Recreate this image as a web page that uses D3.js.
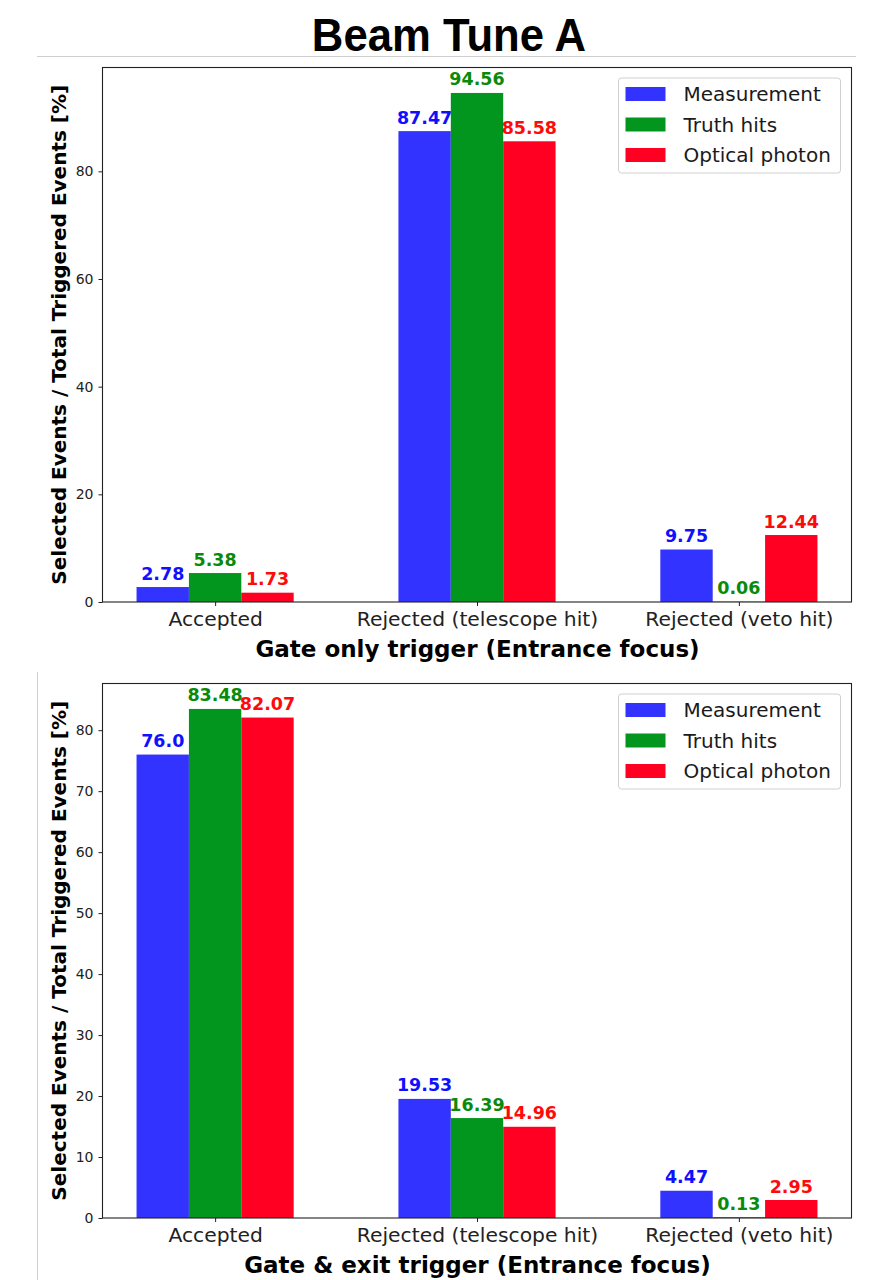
<!DOCTYPE html>
<html>
<head>
<meta charset="utf-8">
<script src="https://cdn.jsdelivr.net/npm/d3@7"></script>
<style>
  html, body { margin: 0; padding: 0; background: #fff; }
  svg { display: block; }
</style>
</head>
<body>
<svg id="chart" width="873" height="1280"></svg>
<script>
// Category labels along the x axis
const categories = ["Accepted", "Rejected (telescope hit)", "Rejected (veto hit)"];
const seriesNames = ["Measurement", "Truth hits", "Optical photon"];

// Percentages per series, gate-only trigger
const gateOnlyMeasurement = [2.78, 87.47, 9.75];
const gateOnlyTruth = [5.38, 94.56, 0.06];
const gateOnlyOptical = [1.73, 85.58, 12.44];

// Percentages per series, gate & exit trigger
const gateExitMeasurement = [76.0, 19.53, 4.47];
const gateExitTruth = [83.48, 16.39, 0.13];
const gateExitOptical = [82.07, 14.96, 2.95];

// Label text shown above each bar
const gateOnlyLabels = [["2.78", "87.47", "9.75"], ["5.38", "94.56", "0.06"], ["1.73", "85.58", "12.44"]];
const gateExitLabels = [["76.0", "19.53", "4.47"], ["83.48", "16.39", "0.13"], ["82.07", "14.96", "2.95"]];

const topTicks = [0, 20, 40, 60, 80];
const bottomTicks = [0, 10, 20, 30, 40, 50, 60, 70, 80];

const barColors = ["#3333ff", "#03961f", "#ff0022"];
const textColors = ["#1010ff", "#0a8a0a", "#ff0a0a"];

const svg = d3.select("#chart");

// Title and separator rules
svg.append("text")
  .attr("transform", "translate(449,51) scale(0.95,1)")
  .attr("text-anchor", "middle")
  .attr("font-family", "Liberation Sans, Arial, sans-serif")
  .attr("font-weight", "bold")
  .attr("font-size", 46)
  .attr("fill", "#000")
  .text("Beam Tune A");
svg.append("line").attr("x1", 37).attr("x2", 856).attr("y1", 56.5).attr("y2", 56.5)
  .attr("stroke", "#cfcfcf").attr("stroke-width", 1);
svg.append("line").attr("x1", 37.5).attr("x2", 37.5).attr("y1", 672).attr("y2", 1280)
  .attr("stroke", "#cfcfcf").attr("stroke-width", 1);

function panel(opts) {
  const { left, right, top, bottom, series, labels, ticks, xTitle } = opts;
  const g = svg.append("g");
  const maxV = d3.max(series.flat());
  const x = d3.scaleLinear().domain([-0.43, 2.43]).range([left, right]);
  const y = d3.scaleLinear().domain([0, maxV * 1.05]).range([bottom, top]);
  const bw = 0.2;
  const font = "DejaVu Sans, sans-serif";

  series.forEach((vals, s) => {
    const off = (s - 1) * bw;
    g.selectAll(null).data(vals).enter().append("rect")
      .attr("x", (d, i) => x(i + off - bw / 2))
      .attr("width", (d, i) => x(i + off + bw / 2) - x(i + off - bw / 2))
      .attr("y", d => y(d))
      .attr("height", d => y(0) - y(d))
      .attr("fill", barColors[s]);
    g.selectAll(null).data(vals).enter().append("text")
      .attr("x", (d, i) => x(i + off))
      .attr("y", d => y(d) - 7.5)
      .attr("text-anchor", "middle")
      .attr("font-family", font)
      .attr("font-weight", "bold")
      .attr("font-size", 17.5)
      .attr("fill", textColors[s])
      .text((d, i) => labels[s][i]);
  });

  // Axes frame
  g.append("rect")
    .attr("x", left).attr("y", top)
    .attr("width", right - left).attr("height", bottom - top)
    .attr("fill", "none").attr("stroke", "#222").attr("stroke-width", 1.1);

  // Y axis
  const yAxis = d3.axisLeft(y).tickValues(ticks).tickSize(4).tickPadding(5).tickFormat(d3.format("d"));
  const ya = g.append("g").attr("transform", `translate(${left},0)`).call(yAxis);
  ya.select(".domain").remove();
  ya.selectAll("line").attr("stroke", "#222");
  ya.selectAll("text").attr("font-family", font).attr("font-size", 14).attr("fill", "#222");

  // X axis
  const xAxis = d3.axisBottom(x).tickValues([0, 1, 2]).tickSize(4).tickPadding(6)
    .tickFormat(i => categories[i]);
  const xa = g.append("g").attr("transform", `translate(0,${bottom})`).call(xAxis);
  xa.select(".domain").remove();
  xa.selectAll("line").attr("stroke", "#222");
  xa.selectAll("text").attr("font-family", font).attr("font-size", 20.3).attr("fill", "#222");

  g.append("text")
    .attr("x", (left + right) / 2 + 0.5).attr("y", bottom + 55)
    .attr("text-anchor", "middle")
    .attr("font-family", font).attr("font-weight", "bold").attr("font-size", 23)
    .attr("fill", "#000")
    .text(xTitle);

  g.append("text")
    .attr("transform", `translate(66,${(top + bottom) / 2}) rotate(-90)`)
    .attr("text-anchor", "middle")
    .attr("font-family", font).attr("font-weight", "bold").attr("font-size", 20)
    .attr("fill", "#000")
    .text("Selected Events / Total Triggered Events [%]");

  // Legend
  const lx = right - 233, ly = top + 10.5;
  const lg = g.append("g");
  lg.append("rect").attr("x", lx).attr("y", ly).attr("width", 222).attr("height", 95)
    .attr("rx", 3).attr("fill", "#fff").attr("fill-opacity", 0.8)
    .attr("stroke", "#d0d0d0").attr("stroke-width", 1);
  seriesNames.forEach((n, s) => {
    const cy = ly + 16 + s * 30.5;
    lg.append("rect").attr("x", lx + 7).attr("y", cy - 7).attr("width", 40).attr("height", 14)
      .attr("fill", barColors[s]);
    lg.append("text").attr("x", lx + 65).attr("y", cy + 7)
      .attr("font-family", font).attr("font-size", 20).attr("fill", "#1a1a1a")
      .text(n);
  });
}

panel({
  left: 102.5, right: 851.5, top: 67.5, bottom: 602,
  series: [gateOnlyMeasurement, gateOnlyTruth, gateOnlyOptical],
  labels: gateOnlyLabels, ticks: topTicks,
  xTitle: "Gate only trigger (Entrance focus)"
});

panel({
  left: 102.5, right: 851.5, top: 683.5, bottom: 1218,
  series: [gateExitMeasurement, gateExitTruth, gateExitOptical],
  labels: gateExitLabels, ticks: bottomTicks,
  xTitle: "Gate & exit trigger (Entrance focus)"
});
</script>
</body>
</html>
